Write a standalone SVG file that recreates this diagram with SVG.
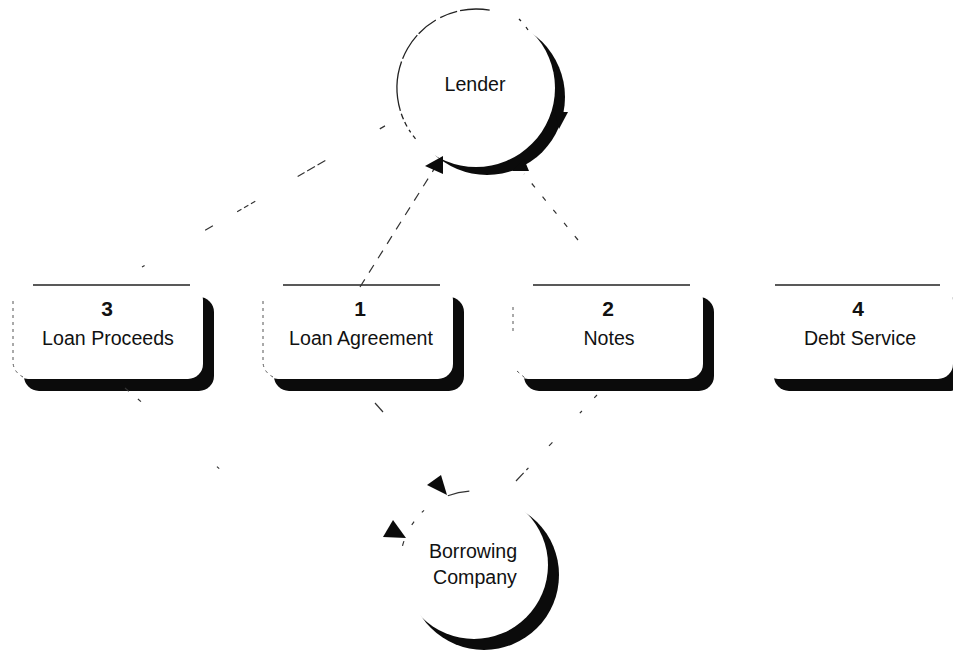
<svg xmlns="http://www.w3.org/2000/svg" width="953" height="652" viewBox="0 0 953 652">
  <style>
    .lbl{font-family:"Liberation Sans",Arial,sans-serif;font-size:19.6px;fill:#111;text-anchor:middle}
    .num{font-family:"Liberation Sans",Arial,sans-serif;font-size:21px;font-weight:bold;fill:#111;text-anchor:middle}
    .shadow{fill:#0b0b0b}
    .face{fill:#fff}
    .rim{fill:none;stroke:#222;stroke-width:1.4}
    .outline{fill:none;stroke:#222;stroke-width:1.3}
    .faint{fill:none;stroke:#555;stroke-width:1;stroke-dasharray:3 4}
    .conn{fill:none;stroke:#333;stroke-width:1.2}
    .head{fill:#0b0b0b}
  </style>
  <rect width="953" height="652" fill="#fff"/>

  <!-- Lender -->
  <g id="lender">
    <circle class="shadow" cx="487" cy="97" r="78"/>
    <circle class="face" cx="476" cy="88" r="79"/>
    <!-- broken rim on the left and top -->
    <path class="outline" d="M415.5,138.8 A79,79 0 0 1 489.7,10.2" stroke-dasharray="4 4 3 4 5 3 6 3 50 3 28 2 22 5 18 3 40"/>
    <path class="outline" d="M519,19 l2,2 M526,27 l2,3"/>
    <text class="lbl" x="475" y="91">Lender</text>
  </g>

  <!-- Boxes -->
  <g id="box-loan-proceeds" transform="translate(13,285)">
    <rect class="shadow" x="11" y="12" width="190" height="94" rx="15"/>
    <rect class="face" width="190" height="94" rx="15"/>
    <line class="rim" x1="20" y1="0" x2="177" y2="0"/>
    <path class="faint" d="M0,16 V78 Q1,88 12,93"/>
    <text class="num" x="94" y="31">3</text>
    <text class="lbl" x="95" y="60">Loan Proceeds</text>
  </g>

  <g id="box-loan-agreement" transform="translate(263,285)">
    <rect class="shadow" x="11" y="12" width="190" height="94" rx="15"/>
    <rect class="face" width="190" height="94" rx="15"/>
    <line class="rim" x1="20" y1="0" x2="177" y2="0"/>
    <path class="faint" d="M0,16 V78 Q1,88 12,93"/>
    <text class="num" x="97" y="31">1</text>
    <text class="lbl" x="98" y="60">Loan Agreement</text>
  </g>

  <g id="box-notes" transform="translate(513,285)">
    <rect class="shadow" x="11" y="12" width="190" height="94" rx="15"/>
    <rect class="face" width="190" height="94" rx="15"/>
    <line class="rim" x1="20" y1="0" x2="177" y2="0"/>
    <path class="faint" d="M0,22 V50 M4,86 L12,93"/>
    <text class="num" x="95" y="31">2</text>
    <text class="lbl" x="96" y="60">Notes</text>
  </g>

  <g id="box-debt-service" transform="translate(763,285)">
    <rect class="shadow" x="11" y="12" width="190" height="94" rx="15"/>
    <rect class="face" width="190" height="94" rx="15"/>
    <line class="rim" x1="12" y1="0" x2="177" y2="0"/>
    <text class="num" x="95" y="31">4</text>
    <text class="lbl" x="97" y="60">Debt Service</text>
  </g>

  <!-- Borrowing Company -->
  <g id="borrowing-company">
    <circle class="shadow" cx="484" cy="575" r="75"/>
    <circle class="face" cx="474" cy="565" r="74"/>
    <path d="M402.5,545.8 A74,74 0 0 1 493.2,493.5" fill="none" stroke="#333" stroke-width="1.2" stroke-dasharray="5 18 4 12 3 28 22 40"/>
    <text class="lbl" x="473" y="558">Borrowing</text>
    <text class="lbl" x="475" y="584">Company</text>
  </g>

  <!-- Connectors -->
  <g id="connectors">
    <!-- Loan Proceeds to Lender -->
    <line class="conn" x1="142" y1="267" x2="402" y2="116" stroke-dasharray="3 70 9 28 5 3 5 3 5 49 8 3 9 3 9 63 6 21 5 10"/>
    <!-- Loan Agreement to Lender -->
    <line class="conn" x1="360" y1="287" x2="436" y2="166" stroke-dasharray="9 8"/>
    <polygon class="head" points="425,166 443,156 443,174"/>
    <!-- Notes to Lender -->
    <line class="conn" x1="578" y1="240" x2="524" y2="174" stroke-dasharray="5 12"/>
    <polygon class="head" points="512,171 524,159 529,171"/>
    <!-- head on the right of Lender -->
    <polygon class="head" points="555,112 568,112 559,129"/>

    <!-- Loan Proceeds to Borrowing Company -->
    <line class="conn" x1="125" y1="388" x2="222" y2="471" stroke-dasharray="5 12 4 100 3"/>
    <!-- Loan Agreement to Borrowing Company -->
    <line class="conn" x1="375" y1="403" x2="383" y2="412"/>
    <!-- Notes to Borrowing Company -->
    <line class="conn" x1="597" y1="395" x2="516" y2="481" stroke-dasharray="4 18 3 40 5 30 3"/>
    <polygon class="head" points="427,485 441,475 447,495"/>
    <polygon class="head" points="393,520 383,537 406,538"/>
  </g>
</svg>
